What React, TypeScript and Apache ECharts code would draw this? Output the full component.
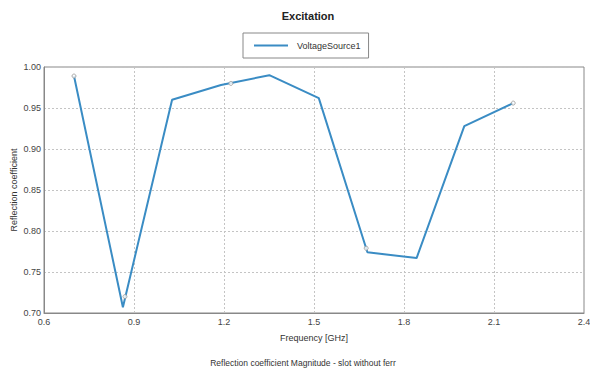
import React, { useEffect, useRef } from "react";
import * as echarts from "echarts";

const chartTitle = "Excitation";
const seriesName = "VoltageSource1";
const xAxisName = "Frequency [GHz]";
const yAxisName = "Reflection coefficient";
const subTitle = "Reflection coefficient Magnitude - slot without ferr";

const freqGHz = [0.7, 0.863, 1.027, 1.19, 1.351, 1.516, 1.678, 1.842, 2.001, 2.164];
const reflection = [0.989, 0.707, 0.96, 0.978, 0.99, 0.962, 0.774, 0.767, 0.928, 0.956];

const markerFreq = [0.7, 0.87, 1.223, 1.674, 2.164];
const markerValue = [0.989, 0.72, 0.98, 0.779, 0.956];

const FONT = "'Liberation Sans', Arial, sans-serif";
const LINE_COLOR = "#3a8cc4";

export default function App() {
  const ref = useRef<HTMLDivElement>(null);
  useEffect(() => {
    document.body.style.margin = "0";
    if (!ref.current) return;
    const chart = echarts.init(ref.current, undefined, { renderer: "svg" });
    chart.setOption({
      animation: false,
      backgroundColor: "#ffffff",
      title: {
        text: chartTitle,
        left: 303,
        textAlign: "center",
        top: 5,
        textStyle: { fontFamily: FONT, fontSize: 11, fontWeight: "bold", color: "#222" },
      },
      legend: {
        data: [{ name: seriesName, icon: "path://M0,0 L34,0 L34,2 L0,2 Z" }],
        left: 243,
        top: 33,
        orient: "horizontal",
        borderColor: "#888",
        borderWidth: 1,
        borderRadius: 0,
        padding: [8, 8, 8, 11],
        itemWidth: 34,
        itemHeight: 10,
        itemGap: 5,
        textStyle: { fontFamily: FONT, fontSize: 9, color: "#333", padding: [0, 0, 0, 4] },
      },
      grid: {
        left: 44,
        right: 6,
        top: 67,
        bottom: 59,
        show: true,
        borderColor: "#888",
        borderWidth: 1,
        containLabel: false,
        outerBoundsMode: "none",
      },
      xAxis: {
        type: "value",
        min: 0.6,
        max: 2.4,
        interval: 0.3,
        axisLine: { show: true, lineStyle: { color: "#888" } },
        axisTick: { show: false },
        axisLabel: {
          fontFamily: FONT,
          fontSize: 9,
          color: "#444",
          margin: 4,
          formatter: (v: number) => v.toFixed(1),
        },
        splitLine: { show: true, lineStyle: { color: "#c4c4c4", type: [2, 2] } },
      },
      yAxis: {
        type: "value",
        min: 0.7,
        max: 1.0,
        interval: 0.05,
        name: yAxisName,
        nameLocation: "middle",
        nameGap: 26,
        nameMoveOverlap: false,
        nameTextStyle: { fontFamily: FONT, fontSize: 9, color: "#333" },
        axisLine: { show: true, lineStyle: { color: "#888" } },
        axisTick: { show: false },
        axisLabel: {
          fontFamily: FONT,
          fontSize: 9,
          color: "#444",
          margin: 3,
          formatter: (v: number) => v.toFixed(2),
        },
        splitLine: { show: true, lineStyle: { color: "#c4c4c4", type: [2, 2] } },
      },
      graphic: [
        {
          type: "text",
          x: 314,
          y: 338,
          style: {
            text: xAxisName,
            fontFamily: FONT,
            fontSize: 9,
            fill: "#333",
            align: "center",
            verticalAlign: "middle",
          },
        },
        {
          type: "text",
          x: 303,
          y: 363,
          style: {
            text: subTitle,
            fontFamily: FONT,
            fontSize: 8.5,
            fill: "#333",
            align: "center",
            verticalAlign: "middle",
          },
        },
      ],
      series: [
        {
          name: seriesName,
          type: "line",
          data: freqGHz.map((f, i) => [f, reflection[i]]),
          symbol: "none",
          lineStyle: { color: LINE_COLOR, width: 2 },
          itemStyle: { color: LINE_COLOR },
        },
        {
          name: "markers",
          type: "scatter",
          data: markerFreq.map((f, i) => [f, markerValue[i]]),
          symbol: "circle",
          symbolSize: 4,
          itemStyle: { color: "#ffffff", borderColor: "#999", borderWidth: 1 },
          z: 3,
        },
      ],
    });
    return () => chart.dispose();
  }, []);
  return <div ref={ref} style={{ width: 590, height: 372 }} />;
}
